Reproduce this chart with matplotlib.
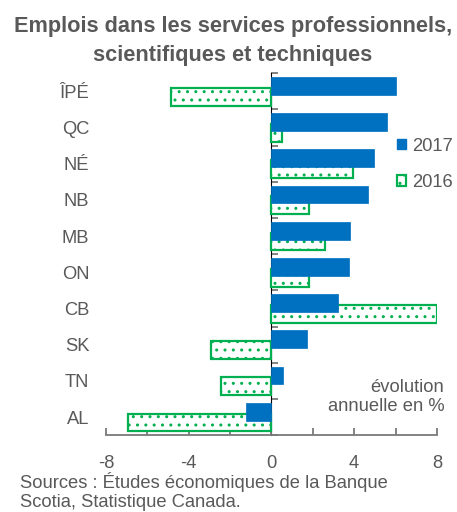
import matplotlib
matplotlib.use("Agg")
import matplotlib.pyplot as plt
from matplotlib.patches import Patch
import numpy as np

plt.rcParams['font.family'] = ['Liberation Sans', 'DejaVu Sans']
plt.rcParams['axes.unicode_minus'] = False

categories = ["ÎPÉ", "QC", "NÉ", "NB", "MB", "ON", "CB", "SK", "TN", "AL"]
v2017 = [6.0, 5.6, 4.95, 4.65, 3.8, 3.75, 3.2, 1.7, 0.55, -1.25]
v2016 = [-4.85, 0.5, 3.95, 1.8, 2.6, 1.8, 8.0, -2.9, -2.45, -6.95]
xticks_major = [-8, -4, 0, 4, 8]
xticks_minor = [-6, -2, 2, 6]

BLUE = "#0070C0"
GREEN = "#00B050"
GRAY_TXT = "#595959"
GRAY_LN = "#7a7a7a"
FS = 13.2

fig = plt.figure(figsize=(4.57, 5.12), dpi=100)
ax = fig.add_axes([0.232, 0.150, 0.724, 0.707])

y = np.arange(len(categories))
h = 0.49
off = 0.15
ax.barh(y + off, v2016, height=h, color="white", edgecolor=GREEN,
        linewidth=1.6, hatch="..", label="2016", zorder=2)
ax.barh(y - off, v2017, height=h, color=BLUE, edgecolor=BLUE,
        linewidth=0.5, label="2017", zorder=3)

ax.set_xlim(-8, 8)
ax.set_ylim(len(categories) - 0.5, -0.5)

for s in ["top", "right", "left"]:
    ax.spines[s].set_visible(False)
ax.spines["bottom"].set_color(GRAY_LN)
ax.spines["bottom"].set_linewidth(1.3)

ax.set_xticks(xticks_major)
ax.set_xticks(xticks_minor, minor=True)
ax.tick_params(axis="x", which="both", direction="in", length=5,
               width=1.3, color=GRAY_LN, labelsize=FS,
               labelcolor=GRAY_TXT, pad=14)

ax.set_yticks(y)
ax.set_yticklabels(categories)
ax.tick_params(axis="y", length=0, pad=12, labelsize=FS, labelcolor=GRAY_TXT)

# zero axis with category-boundary ticks
sec = ax.secondary_yaxis(0.5)
sec.spines["left"].set_color(GRAY_LN)
sec.spines["left"].set_linewidth(1.3)
sec.set_yticks(np.arange(-0.5, len(categories), 1.0))
sec.set_yticklabels([])
sec.tick_params(axis="y", direction="out", length=5, width=1.3, color=GRAY_LN)

handles = [Patch(facecolor=BLUE, edgecolor=BLUE, label="2017"),
           Patch(facecolor="white", edgecolor=GREEN, hatch="..",
                 linewidth=1.6, label="2016")]
fig.legend(handles=handles, loc="upper left",
           bbox_to_anchor=(0.849, 0.749), frameon=False, fontsize=FS,
           handlelength=0.5, handleheight=0.5, handletextpad=0.3,
           labelspacing=1.05, borderpad=0, labelcolor=GRAY_TXT)

fig.text(0.51, 0.92, "Emplois dans les services professionnels,\nscientifiques et techniques",
         ha="center", va="center", fontsize=15.7, fontweight="bold",
         color=GRAY_TXT, linespacing=1.45)

fig.text(0.972, 0.225, "évolution\nannuelle en %",
         ha="right", va="center", fontsize=FS, color=GRAY_TXT, linespacing=1.2)

fig.text(0.044, 0.040, "Sources : Études économiques de la Banque\nScotia, Statistique Canada.",
         ha="left", va="center", fontsize=FS, color=GRAY_TXT, linespacing=1.2)

fig.savefig("out.png", dpi=100)
